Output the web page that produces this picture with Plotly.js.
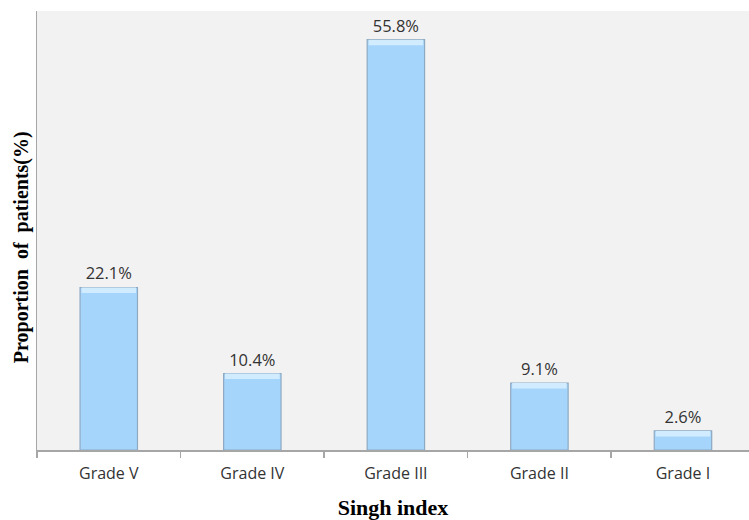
<!DOCTYPE html>
<html>
<head>
<meta charset="utf-8">
<script src="https://cdn.plot.ly/plotly-3.0.1.min.js"></script>
<style>
  html, body { margin: 0; padding: 0; background: #ffffff; }
  #chart { width: 749px; height: 520px; }
</style>
</head>
<body>
<div id="chart"></div>
<script>
// Singh index grades and share of patients in each grade (%)
const grades = ['Grade V', 'Grade IV', 'Grade III', 'Grade II', 'Grade I'];
const proportions = [22.1, 10.4, 55.8, 9.1, 2.6];
const valueLabels = ['22.1%', '10.4%', '55.8%', '9.1%', '2.6%'];

// thin lighter band along each bar's top edge for a bevelled look
const bevelDepth = 0.75;
const bevelBase = proportions.map(v => v - bevelDepth);
const bevelHeight = proportions.map(() => bevelDepth);

const barTrace = {
  type: 'bar',
  x: grades,
  y: proportions,
  width: 0.4,
  marker: { color: '#a6d5fc', line: { color: '#8ea9c2', width: 1.2 } },
  text: valueLabels,
  textposition: 'outside',
  cliponaxis: false,
  textfont: { family: 'Open Sans, sans-serif', size: 16.5, color: '#333333' },
  hoverinfo: 'x+y'
};

const bevelTrace = {
  type: 'bar',
  x: grades,
  y: bevelHeight,
  base: bevelBase,
  width: 0.38,
  marker: { color: '#d2ecff', line: { width: 0 } },
  hoverinfo: 'skip'
};

const layout = {
  width: 749,
  height: 520,
  margin: { l: 37, r: 0, t: 11, b: 70 },
  paper_bgcolor: '#ffffff',
  plot_bgcolor: '#f2f2f2',
  barmode: 'overlay',
  showlegend: false,
  xaxis: {
    type: 'category',
    range: [-0.5, 4.46],
    showline: true,
    linecolor: '#a6a6a6',
    linewidth: 1.5,
    ticks: 'outside',
    tickson: 'boundaries',
    ticklen: 6,
    tickcolor: '#a6a6a6',
    tickwidth: 1.5,
    ticklabelstandoff: 8,
    showgrid: false,
    tickfont: { family: 'Open Sans, sans-serif', size: 16, color: '#333333' },
    title: {
      text: '<b>Singh index</b>',
      font: { family: 'Liberation Serif, Times New Roman, serif', size: 22, color: '#000000' },
      standoff: 18
    }
  },
  yaxis: {
    range: [0, 59.7],
    showline: true,
    linecolor: '#a6a6a6',
    linewidth: 1.5,
    showgrid: false,
    zeroline: false,
    showticklabels: false,
    ticks: ''
  },
  annotations: [{
    text: '<b>Proportion  of  patients(%)</b>',
    xref: 'paper', yref: 'paper',
    x: -0.0225, y: 0.462,
    xanchor: 'center', yanchor: 'middle',
    textangle: -90,
    showarrow: false,
    font: { family: 'Liberation Serif, Times New Roman, serif', size: 20, color: '#000000' }
  }]
};

Plotly.newPlot('chart', [barTrace, bevelTrace], layout, { displayModeBar: false, staticPlot: true });
</script>
</body>
</html>
